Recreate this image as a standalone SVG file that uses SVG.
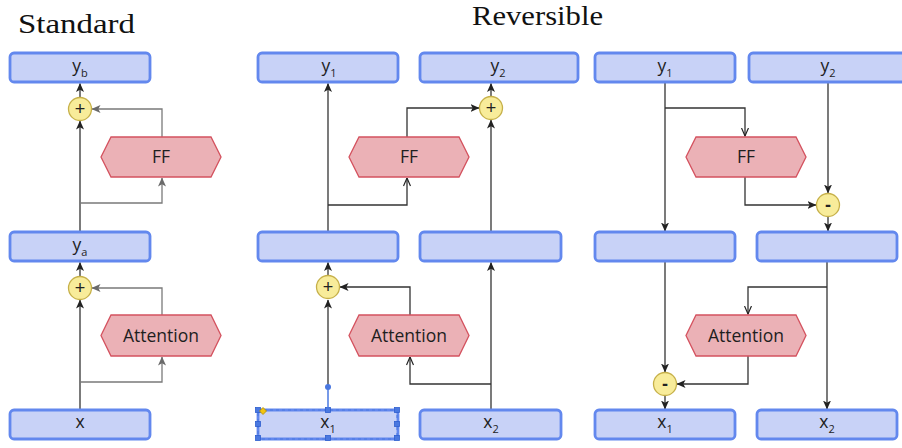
<svg xmlns="http://www.w3.org/2000/svg" width="902" height="448" viewBox="0 0 902 448">
  <style>
    .title { font-family: "Liberation Serif", "DejaVu Serif", serif; font-size: 27px; fill: #111; }
    .box { fill: #c8d2f7; stroke: #6388ee; stroke-width: 2.8; }
    .hex { fill: #ebb1b6; stroke: #d4525f; stroke-width: 1.3; }
    .op { fill: #f8ec9a; stroke: #c6b049; stroke-width: 1.3; }
    .lbl { font-family: "Open Sans", "Liberation Sans", sans-serif; font-size: 17.5px; fill: #1e1e1e; text-anchor: middle; }
    .sub { font-size: 11px; }
    .plus { font-family: "Liberation Sans", sans-serif; font-size: 18px; fill: #222; text-anchor: middle; }
    .minus { font-family: "Liberation Sans", sans-serif; font-size: 18px; font-weight: bold; fill: #222; text-anchor: middle; }
    .conn { fill: none; stroke: #333; stroke-width: 1.3; }
    .gray { stroke: #7a7a7a; }
    .sel { fill: #4a78e0; stroke: #2f5fcf; stroke-width: 0.8; }
  </style>
  <defs>
    <marker id="arr" markerWidth="9" markerHeight="8" refX="8.5" refY="4" orient="auto" markerUnits="userSpaceOnUse">
      <path d="M0,0 L9,4 L0,8 L2.2,4 Z" fill="#222"/>
    </marker>
    <marker id="arrGray" markerWidth="9" markerHeight="8" refX="8.5" refY="4" orient="auto" markerUnits="userSpaceOnUse">
      <path d="M0,0 L9,4 L0,8 L2.2,4 Z" fill="#6a6a6a"/>
    </marker>
    <marker id="arrOpen" markerWidth="9" markerHeight="8" refX="8.5" refY="4" orient="auto" markerUnits="userSpaceOnUse">
      <path d="M0.5,0.5 L8.5,4 L0.5,7.5" fill="none" stroke="#222" stroke-width="1.2"/>
    </marker>
  </defs>

  <!-- headings -->
  <text class="title" x="18" y="33" textLength="117" lengthAdjust="spacingAndGlyphs">Standard</text>
  <text class="title" x="472" y="25" textLength="131" lengthAdjust="spacingAndGlyphs">Reversible</text>

  <!-- connectors -->
  <g id="connectors">
    <!-- standard block -->
    <path class="conn" d="M80,410 L80,300" marker-end="url(#arr)"/>
    <path class="conn" d="M80,276 L80,262.5" marker-end="url(#arr)"/>
    <path class="conn" d="M80,232 L80,121" marker-end="url(#arr)"/>
    <path class="conn" d="M80,97 L80,83.5" marker-end="url(#arr)"/>
    <path class="conn gray" d="M80,382 L162,382 L162,357" marker-end="url(#arrGray)"/>
    <path class="conn gray" d="M162,315 L162,288 L92,288" marker-end="url(#arrGray)"/>
    <path class="conn gray" d="M80,203 L162,203 L162,178" marker-end="url(#arrGray)"/>
    <path class="conn gray" d="M162,137 L162,109 L92,109" marker-end="url(#arrGray)"/>

    <!-- reversible forward -->
    <path class="conn" d="M328,387 L328,300" marker-end="url(#arr)"/>
    <path class="conn" d="M328,275 L328,262.5" marker-end="url(#arr)"/>
    <path class="conn" d="M328,232 L328,83.5" marker-end="url(#arr)"/>
    <path class="conn" d="M328,205 L407,205 L407,178" marker-end="url(#arrOpen)"/>
    <path class="conn" d="M407,137 L407,108 L479,108" marker-end="url(#arr)"/>
    <path class="conn" d="M491,232 L491,120" marker-end="url(#arr)"/>
    <path class="conn" d="M491,96 L491,83.5" marker-end="url(#arr)"/>
    <path class="conn" d="M410,315 L410,287 L340,287" marker-end="url(#arr)"/>
    <path class="conn" d="M491,410 L491,262.5" marker-end="url(#arr)"/>
    <path class="conn" d="M491,384 L410,384 L410,357" marker-end="url(#arrOpen)"/>

    <!-- reversible inverse -->
    <path class="conn" d="M665,82 L665,231" marker-end="url(#arr)"/>
    <path class="conn" d="M665,108 L745,108 L745,136" marker-end="url(#arrOpen)"/>
    <path class="conn" d="M745,177 L745,205 L816,205" marker-end="url(#arr)"/>
    <path class="conn" d="M828,82 L828,193" marker-end="url(#arr)"/>
    <path class="conn" d="M828,217 L828,231" marker-end="url(#arr)"/>
    <path class="conn" d="M665,261 L665,372" marker-end="url(#arr)"/>
    <path class="conn" d="M665,396 L665,409" marker-end="url(#arr)"/>
    <path class="conn" d="M827,261 L827,409" marker-end="url(#arr)"/>
    <path class="conn" d="M827,287 L748,287 L748,314" marker-end="url(#arrOpen)"/>
    <path class="conn" d="M748,356 L748,384 L677,384" marker-end="url(#arr)"/>
  </g>

  <!-- standard block nodes -->
  <g id="std-yb">
    <rect class="box" x="10" y="53" width="140" height="29" rx="4"/>
    <text class="lbl" x="80" y="72">y<tspan class="sub" dy="5">b</tspan></text>
  </g>
  <g id="std-add2">
    <circle class="op" cx="80" cy="109" r="11.5"/>
    <text class="plus" x="80" y="115">+</text>
  </g>
  <g id="std-ff">
    <polygon class="hex" points="101,157 111,137 211,137 221,157 211,177 111,177"/>
    <text class="lbl" x="161" y="163">FF</text>
  </g>
  <g id="std-ya">
    <rect class="box" x="10" y="232" width="140" height="29" rx="4"/>
    <text class="lbl" x="80" y="251">y<tspan class="sub" dy="5">a</tspan></text>
  </g>
  <g id="std-add1">
    <circle class="op" cx="80" cy="288" r="11.5"/>
    <text class="plus" x="80" y="294">+</text>
  </g>
  <g id="std-attn">
    <polygon class="hex" points="101,335.5 111,315 211,315 221,335.5 211,356 111,356"/>
    <text class="lbl" x="161" y="341.5">Attention</text>
  </g>
  <g id="std-x">
    <rect class="box" x="10" y="410" width="140" height="29" rx="4"/>
    <text class="lbl" x="80" y="428">x</text>
  </g>

  <!-- reversible forward nodes -->
  <g id="fwd-y1">
    <rect class="box" x="258" y="53" width="140" height="29" rx="4"/>
    <text class="lbl" x="329" y="72">y<tspan class="sub" dy="5">1</tspan></text>
  </g>
  <g id="fwd-y2">
    <rect class="box" x="420" y="53" width="158" height="29" rx="4"/>
    <text class="lbl" x="498" y="72">y<tspan class="sub" dy="5">2</tspan></text>
  </g>
  <g id="fwd-add2">
    <circle class="op" cx="491" cy="108" r="11.5"/>
    <text class="plus" x="491" y="114">+</text>
  </g>
  <g id="fwd-ff">
    <polygon class="hex" points="349,157 359,137 459,137 469,157 459,177 359,177"/>
    <text class="lbl" x="409" y="163">FF</text>
  </g>
  <g id="fwd-mid1">
    <rect class="box" x="258" y="232" width="140" height="29" rx="4"/>
  </g>
  <g id="fwd-mid2">
    <rect class="box" x="420" y="232" width="141" height="29" rx="4"/>
  </g>
  <g id="fwd-add1">
    <circle class="op" cx="328" cy="287" r="11.5"/>
    <text class="plus" x="328" y="293">+</text>
  </g>
  <g id="fwd-attn">
    <polygon class="hex" points="349,335.5 359,315 459,315 469,335.5 459,356 359,356"/>
    <text class="lbl" x="409" y="341.5">Attention</text>
  </g>
  <g id="fwd-x1">
    <rect class="box" x="258" y="410" width="140" height="29" rx="4"/>
    <text class="lbl" x="328" y="428">x<tspan class="sub" dy="5">1</tspan></text>
    <!-- selection overlay -->
    <rect x="258" y="410" width="139" height="29" fill="none" stroke="#4a78e0" stroke-width="1" stroke-dasharray="3 3"/>
    <rect class="sel" x="255.5" y="407.5" width="5" height="5"/>
    <rect class="sel" x="325.5" y="407.5" width="5" height="5"/>
    <rect class="sel" x="394.5" y="407.5" width="5" height="5"/>
    <rect class="sel" x="255.5" y="421.5" width="5" height="5"/>
    <rect class="sel" x="394.5" y="421.5" width="5" height="5"/>
    <rect class="sel" x="255.5" y="435.5" width="5" height="5"/>
    <rect class="sel" x="325.5" y="435.5" width="5" height="5"/>
    <rect class="sel" x="394.5" y="435.5" width="5" height="5"/>
    <path d="M263,407.5 L266.5,411 L263,414.5 L259.5,411 Z" fill="#f2c40f" stroke="#b08a00" stroke-width="0.8"/>
    <path d="M328,387 L328,409" stroke="#4a78e0" stroke-width="1.5"/>
    <circle cx="328" cy="387" r="3" fill="#4a78e0"/>
  </g>
  <g id="fwd-x2">
    <rect class="box" x="420" y="410" width="141" height="29" rx="4"/>
    <text class="lbl" x="491" y="428">x<tspan class="sub" dy="5">2</tspan></text>
  </g>

  <!-- reversible inverse nodes -->
  <g id="inv-y1">
    <rect class="box" x="595" y="53" width="140" height="29" rx="4"/>
    <text class="lbl" x="665" y="72">y<tspan class="sub" dy="5">1</tspan></text>
  </g>
  <g id="inv-y2">
    <rect class="box" x="749" y="53" width="158" height="29" rx="4"/>
    <text class="lbl" x="828" y="72">y<tspan class="sub" dy="5">2</tspan></text>
  </g>
  <g id="inv-ff">
    <polygon class="hex" points="686,157 696,137 796,137 806,157 796,177 696,177"/>
    <text class="lbl" x="746" y="163">FF</text>
  </g>
  <g id="inv-sub2">
    <circle class="op" cx="828" cy="205" r="11.5"/>
    <text class="minus" x="828" y="211">-</text>
  </g>
  <g id="inv-mid1">
    <rect class="box" x="595" y="232" width="140" height="29" rx="4"/>
  </g>
  <g id="inv-mid2">
    <rect class="box" x="757" y="232" width="140" height="29" rx="4"/>
  </g>
  <g id="inv-attn">
    <polygon class="hex" points="686,335.5 696,315 796,315 806,335.5 796,356 696,356"/>
    <text class="lbl" x="746" y="341.5">Attention</text>
  </g>
  <g id="inv-sub1">
    <circle class="op" cx="665" cy="384" r="11.5"/>
    <text class="minus" x="665" y="390">-</text>
  </g>
  <g id="inv-x1">
    <rect class="box" x="595" y="410" width="140" height="29" rx="4"/>
    <text class="lbl" x="665" y="428">x<tspan class="sub" dy="5">1</tspan></text>
  </g>
  <g id="inv-x2">
    <rect class="box" x="757" y="410" width="140" height="29" rx="4"/>
    <text class="lbl" x="827" y="428">x<tspan class="sub" dy="5">2</tspan></text>
  </g>
</svg>
